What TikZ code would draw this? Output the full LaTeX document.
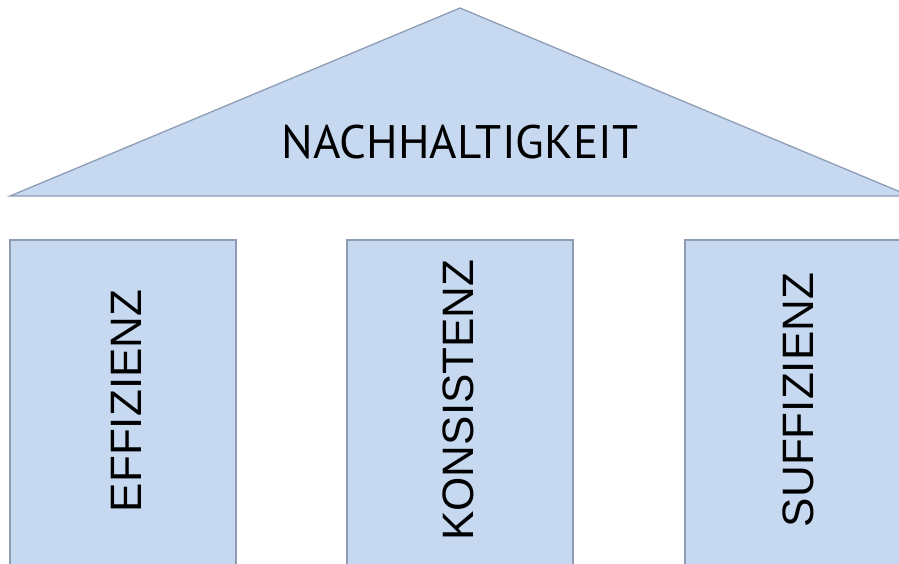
\documentclass[tikz,border=0pt]{standalone}
\usepackage{fontspec}
\setmainfont{Liberation Sans}
\newfontfamily\roofont{PT Sans}
\usetikzlibrary{positioning}

\definecolor{pillarfill}{HTML}{C6D9F1}
\definecolor{pillarline}{HTML}{8E9DB4}

\begin{document}
\begin{tikzpicture}[
  x=1pt, y=-1pt,
  block/.style={
    fill=pillarfill,
    draw=pillarline,
    line width=1.3pt
  },
  title/.style={font=\roofont\fontsize{47}{47}\selectfont, anchor=base, inner sep=0pt},
  pillartext/.style={font=\fontsize{44}{44}\selectfont, rotate=90, anchor=base, inner sep=0pt}
]

\useasboundingbox (0,0) rectangle (899,563);
\clip (0,0) rectangle (899,563);

% roof
\draw[block] (10,196) -- (460,8) -- (910,196) -- cycle;
\node[title] (roof) at (460,158) {NACHHALTIGKEIT};

% pillars
\draw[block] (10,240) rectangle (236,575);
\draw[block] (347,240) rectangle (573,575);
\draw[block] (685,240) rectangle (911,575);

\node[pillartext] (effizienz) at (141,401) {EFFIZIENZ};
\node[pillartext] (konsistenz) at (473,400) {KONSISTENZ};
\node[pillartext] (suffizienz) at (813,400) {SUFFIZIENZ};

\end{tikzpicture}
\end{document}
